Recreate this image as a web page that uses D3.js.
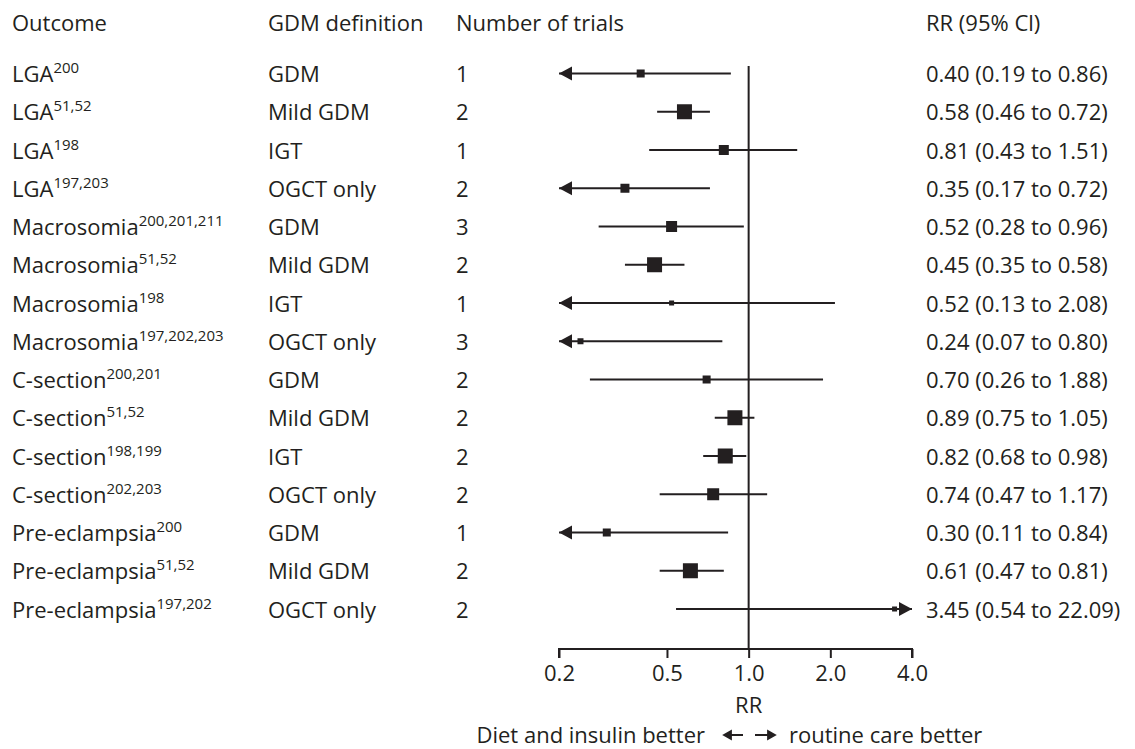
<!DOCTYPE html>
<html>
<head>
<meta charset="utf-8">
<script src="https://cdn.jsdelivr.net/npm/d3@7"></script>
<style>
  html, body { margin: 0; padding: 0; background: #ffffff; }
  svg { display: block; }
  text { font-family: "Open Sans", "Noto Sans", sans-serif; fill: #231f20; }
</style>
</head>
<body>
<svg id="chart" width="1135" height="749"></svg>
<script>
// ---- data ----
const headers = ["Outcome", "GDM definition", "Number of trials", "RR (95% Cl)"];
const outcomes = ["LGA", "LGA", "LGA", "LGA", "Macrosomia", "Macrosomia", "Macrosomia", "Macrosomia",
  "C-section", "C-section", "C-section", "C-section", "Pre-eclampsia", "Pre-eclampsia", "Pre-eclampsia"];
const refs = ["200", "51,52", "198", "197,203", "200,201,211", "51,52", "198", "197,202,203",
  "200,201", "51,52", "198,199", "202,203", "200", "51,52", "197,202"];
const definitions = ["GDM", "Mild GDM", "IGT", "OGCT only", "GDM", "Mild GDM", "IGT", "OGCT only",
  "GDM", "Mild GDM", "IGT", "OGCT only", "GDM", "Mild GDM", "OGCT only"];
const trials = [1, 2, 1, 2, 3, 2, 1, 3, 2, 2, 2, 2, 1, 2, 2];
const rr = [0.40, 0.58, 0.81, 0.35, 0.52, 0.45, 0.52, 0.24, 0.70, 0.89, 0.82, 0.74, 0.30, 0.61, 3.45];
const lower = [0.19, 0.46, 0.43, 0.17, 0.28, 0.35, 0.13, 0.07, 0.26, 0.75, 0.68, 0.47, 0.11, 0.47, 0.54];
const upper = [0.86, 0.72, 1.51, 0.72, 0.96, 0.58, 2.08, 0.80, 1.88, 1.05, 0.98, 1.17, 0.84, 0.81, 22.09];
const boxWeight = [8, 15, 10, 9, 11, 15, 5, 6, 8, 15, 15, 12, 8, 15, 5];
const ticks = [0.2, 0.5, 1.0, 2.0, 4.0];
const axisTitle = "RR";
const favourLeft = "Diet and insulin better";
const favourRight = "routine care better";

// ---- layout ----
const ink = "#231f20";
const svg = d3.select("#chart");
const fs = 22;
const colX = [12, 268, 456, 926];
const x = d3.scaleLog().domain([0.2, 4.0]).range([559, 912]);
const y = d3.scaleLinear().domain([0, outcomes.length - 1]).range([73.5, 609]);
const box = d3.scaleLinear().domain([0, 15]).range([0, 15]);
const axisY = 649;
const lo = x.domain()[0], hi = x.domain()[1];
const fmt = d3.format(".2f");

// headers
svg.selectAll("text.hdr").data(headers).join("text")
  .attr("class", "hdr")
  .attr("x", (d, i) => colX[i]).attr("y", 31)
  .attr("font-size", fs).text(d => d);

const rows = d3.range(outcomes.length);

// outcome labels with superscripts
const ot = svg.selectAll("text.outcome").data(rows).join("text")
  .attr("class", "outcome")
  .attr("x", colX[0]).attr("y", i => y(i) + 8.5)
  .attr("font-size", fs);
ot.append("tspan").text(i => outcomes[i]);
ot.append("tspan").attr("font-size", 15).attr("dy", -9).text(i => refs[i]);

svg.selectAll("text.def").data(rows).join("text")
  .attr("class", "def")
  .attr("x", colX[1]).attr("y", i => y(i) + 8.5)
  .attr("font-size", fs).text(i => definitions[i]);

svg.selectAll("text.trials").data(rows).join("text")
  .attr("class", "trials")
  .attr("x", colX[2]).attr("y", i => y(i) + 8.5)
  .attr("font-size", fs).text(i => trials[i]);

svg.selectAll("text.rr").data(rows).join("text")
  .attr("class", "rr")
  .attr("x", colX[3]).attr("y", i => y(i) + 8.5)
  .attr("font-size", fs)
  .text(i => `${fmt(rr[i])} (${fmt(lower[i])} to ${fmt(upper[i])})`);

// reference line at RR = 1
svg.append("line")
  .attr("x1", x(1)).attr("x2", x(1))
  .attr("y1", 66).attr("y2", axisY)
  .attr("stroke", ink).attr("stroke-width", 2);

// CI lines
const g = svg.append("g");
g.selectAll("line.ci").data(rows).join("line")
  .attr("class", "ci")
  .attr("x1", i => x(Math.max(lower[i], lo)))
  .attr("x2", i => x(Math.min(upper[i], hi)))
  .attr("y1", i => y(i)).attr("y2", i => y(i))
  .attr("stroke", ink).attr("stroke-width", 2);

// arrows for truncated CIs
const aw = 13, ah = 7;
g.selectAll("path.larr").data(rows.filter(i => lower[i] < lo)).join("path")
  .attr("class", "larr")
  .attr("d", i => {
    const tx = x(lo), ty = y(i);
    return `M${tx},${ty}L${tx + aw},${ty - ah}L${tx + aw},${ty + ah}Z`;
  })
  .attr("fill", ink);
g.selectAll("path.rarr").data(rows.filter(i => upper[i] > hi)).join("path")
  .attr("class", "rarr")
  .attr("d", i => {
    const tx = x(hi), ty = y(i);
    return `M${tx},${ty}L${tx - aw},${ty - ah}L${tx - aw},${ty + ah}Z`;
  })
  .attr("fill", ink);

// point estimate boxes
g.selectAll("rect.pt").data(rows).join("rect")
  .attr("class", "pt")
  .attr("x", i => x(rr[i]) - box(boxWeight[i]) / 2)
  .attr("y", i => y(i) - box(boxWeight[i]) / 2)
  .attr("width", i => box(boxWeight[i]))
  .attr("height", i => box(boxWeight[i]))
  .attr("fill", ink);

// axis
const axis = d3.axisBottom(x).tickValues(ticks).tickFormat(d3.format(".1f")).tickSize(9).tickPadding(8);
const ag = svg.append("g").attr("transform", `translate(0,${axisY})`).call(axis);
ag.select(".domain").attr("d", `M${x(lo)},9V0H${x(hi)}V9`).attr("stroke", ink).attr("stroke-width", 2);
ag.selectAll(".tick line").attr("stroke", ink).attr("stroke-width", 2);
ag.selectAll(".tick text").attr("font-size", fs).attr("font-family", "Open Sans, Noto Sans, sans-serif")
  .attr("fill", ink).attr("dy", null).attr("y", 32);

svg.append("text").attr("x", x(1)).attr("y", 713).attr("text-anchor", "middle")
  .attr("font-size", fs).text(axisTitle);

svg.append("text").attr("x", 705).attr("y", 743).attr("text-anchor", "end")
  .attr("font-size", fs).text(favourLeft);
svg.append("text").attr("x", 789).attr("y", 743).attr("text-anchor", "start")
  .attr("font-size", fs).text(favourRight);

// direction arrows between the two phrases
const arrowY = 735;
svg.append("path")
  .attr("d", `M724,${arrowY}L731,${arrowY - 4}L731,${arrowY + 4}Z M731,${arrowY}H743`)
  .attr("fill", ink).attr("stroke", ink).attr("stroke-width", 1.8);
svg.append("path")
  .attr("d", `M775,${arrowY}L768,${arrowY - 4}L768,${arrowY + 4}Z M755,${arrowY}H768`)
  .attr("fill", ink).attr("stroke", ink).attr("stroke-width", 1.8);
</script>
</body>
</html>
